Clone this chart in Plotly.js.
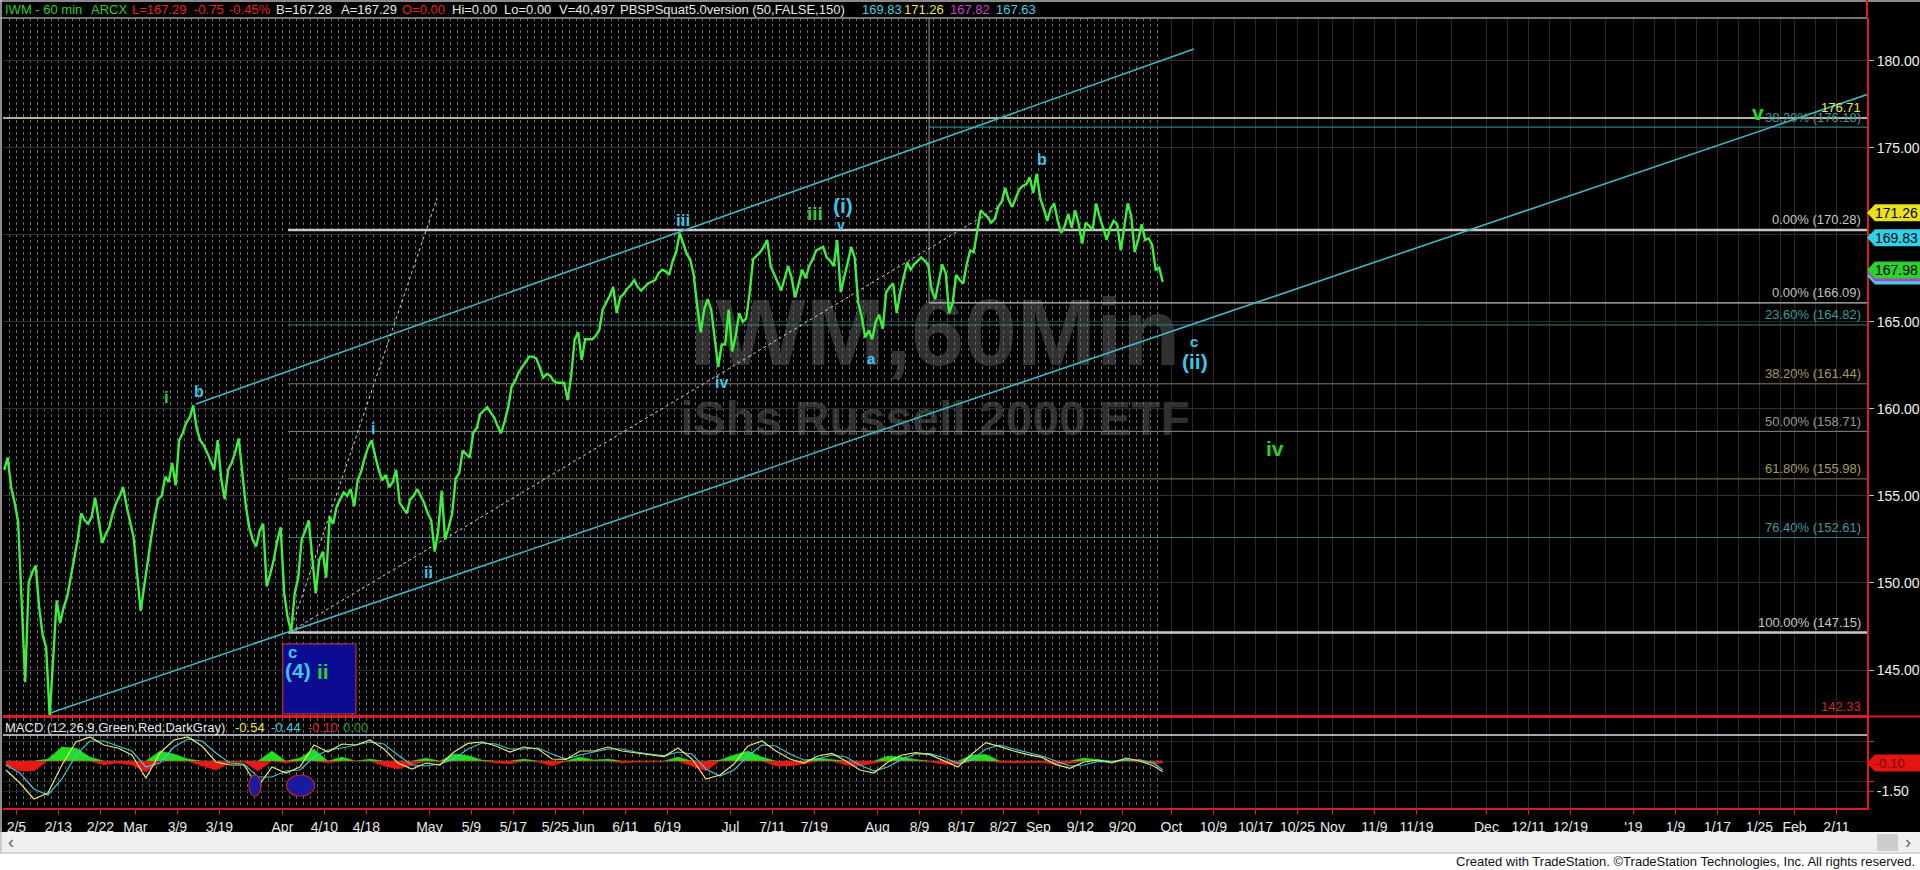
<!DOCTYPE html>
<html>
<head>
<meta charset="utf-8">
<title>IWM - 60 min</title>
<script src="https://cdn.plot.ly/plotly-3.0.1.min.js"></script>
<style>
  html, body { margin:0; padding:0; background:#ffffff; overflow:hidden; }
  #chart { width:1920px; height:870px; }
</style>
</head>
<body>
<div id="chart"></div>
<script>
// ---------- session calendar ----------
const firstSession = '2018-02-01';
const lastSession = '2018-09-27';
const exchangeHolidays = ['2018-02-19', '2018-03-30', '2018-05-28', '2018-07-04', '2018-09-03'];

// ---------- IWM 60-min path: two readings per session (morning, afternoon) ----------
const priceFeb = [
  156.5,157.2, 155.5,154.6, 153.5,148.5, 144.3,150.0, 150.6,151.0, 148.6,147.0, 146.3,142.33,
  146.0,149.0, 147.7,148.6, 149.2,150.3, 151.4,152.5, 154.0,153.6,
  153.4,153.8, 154.9,153.5, 152.3,152.8, 153.2,154.0,
  154.6,155.0, 155.5,154.4, 153.5,152.6
];
const priceMar = [
  150.5,148.4, 149.8,151.3,
  152.6,153.8, 154.8,155.0, 156.1,155.8, 156.9,155.6, 158.2,158.6,
  159.2,159.5, 160.2,158.9, 158.2,157.9, 157.5,157.0, 156.5,158.2,
  156.0,154.8, 156.5,156.9, 157.5,158.3, 156.5,154.5, 153.2,152.5,
  152.1,153.0, 153.4,149.8, 150.5,151.3, 152.4,153.2
];
const priceApr = [
  149.4,148.0, 147.2,149.4, 150.3,152.5, 153.0,153.6, 151.5,149.4,
  151.3,151.8, 150.3,153.8, 153.4,154.4, 154.8,155.2, 155.0,155.4,
  154.4,155.9, 156.4,157.2, 157.8,158.2, 157.3,156.5, 155.9,156.2,
  155.5,155.8, 156.5,154.6, 154.3,154.0, 154.8,155.0, 155.4,155.0,
  154.6,154.0
];
const priceMay = [
  153.6,151.8, 153.0,155.3, 152.5,153.2, 154.0,156.0,
  156.3,157.6, 157.4,157.2, 158.6,158.9, 159.7,159.9, 160.1,159.8,
  159.5,159.0, 158.6,159.3, 160.1,161.3, 161.6,162.1, 162.4,162.7,
  163.0,163.0, 162.9,162.4, 161.8,162.0, 161.9,161.6, 161.5,161.5,
  161.5,160.5, 161.9,164.0, 164.4,162.8
];
const priceJun = [
  164.0,164.0,
  164.0,164.2, 164.5,165.7, 166.1,166.5, 167.0,165.5, 166.4,166.6,
  166.9,167.1, 167.4,167.0, 166.8,167.0, 167.2,167.3, 167.4,167.8,
  168.0,167.9, 167.7,168.5, 169.0,170.1, 169.5,168.9, 168.6,167.7,
  165.9,164.4, 165.7,166.3, 165.7,164.0, 162.4,163.7, 163.7,165.7
];
const priceJul = [
  163.3,164.2, 165.5,165.0, 165.2,166.7, 168.6,168.8,
  169.0,169.3, 169.7,168.2, 167.7,167.2, 166.8,167.5, 168.2,167.5,
  166.4,167.2, 168.0,167.5, 168.2,168.6, 169.1,169.2, 169.3,168.7,
  168.5,168.2, 169.7,166.7, 167.5,168.4, 169.3,168.7, 166.1,165.3,
  164.1,164.5, 164.0,165.0
];
const priceAug = [
  165.4,164.6, 166.7,167.0, 167.2,165.5,
  166.7,167.5, 168.4,168.0, 168.3,168.5, 168.7,168.5, 168.3,166.8,
  166.3,167.3, 168.3,167.8, 165.5,166.1, 167.7,167.4, 167.2,168.3,
  169.1,169.0, 170.2,171.4, 171.2,171.0, 170.7,170.9, 171.6,171.9,
  172.7,172.0, 171.6,172.1, 172.6,172.8, 172.9,173.3, 172.4,173.5
];
const priceSep = [
  172.1,171.5, 170.8,171.5, 171.8,170.8, 170.1,170.5,
  171.2,170.4, 171.4,170.6, 169.5,170.7, 170.5,170.3, 171.8,171.0,
  170.4,169.7, 170.4,170.8, 170.6,169.1, 170.4,171.8, 171.1,169.0,
  169.7,170.6, 169.7,169.8, 169.4,168.0, 168.1,167.29
];

// ---------- MACD (12,26,9), one reading every second session ----------
const macdLine = [
  -0.45,-1.1,-1.9,-1.6,-0.2,0.95,1.2,0.8,0.65,0.3,
  -0.85,0.4,1.05,1.2,0.75,-0.05,-0.2,-0.2,-1.3,-0.3,
  -0.6,-0.3,0.8,0.45,0.85,0.8,1.05,0.6,-0.1,-0.4,
  -0.1,-0.2,0.45,0.88,0.95,0.75,0.45,0.7,0.6,0.1,
  0.08,0.5,0.5,0.7,0.5,0.4,0.3,0.22,0.65,0.1,
  -0.9,-0.7,-0.15,0.75,1.0,0.5,0.1,-0.1,0.25,0.38,
  0.0,-0.45,-0.6,-0.05,0.3,0.42,0.32,0.0,-0.3,0.35,
  0.92,0.72,0.5,0.32,0.18,-0.18,-0.37,-0.05,0.05,-0.1,
  0.15,0.0,-0.25,-0.54
];
const macdSignal = [
  -0.2,-0.6,-1.4,-1.7,-0.9,0.3,1.0,1.0,0.75,0.5,
  -0.3,-0.1,0.7,1.1,1.0,0.4,-0.1,-0.15,-0.8,-0.8,
  -0.5,-0.45,0.2,0.55,0.65,0.8,0.95,0.85,0.3,-0.2,
  -0.25,-0.15,0.1,0.6,0.9,0.85,0.6,0.6,0.65,0.35,
  0.1,0.3,0.45,0.6,0.6,0.45,0.35,0.26,0.45,0.35,
  -0.4,-0.75,-0.45,0.25,0.8,0.75,0.35,0.05,0.1,0.3,
  0.2,-0.2,-0.5,-0.3,0.1,0.35,0.37,0.16,-0.12,0.05,
  0.6,0.8,0.6,0.42,0.25,0.0,-0.25,-0.2,-0.02,-0.03,
  0.05,0.06,-0.12,-0.44
];
const macdHistogram = [
  -0.25,-0.5,-0.5,0.1,0.7,0.65,0.2,-0.2,-0.1,-0.2,
  -0.55,0.5,0.35,0.1,-0.25,-0.45,-0.1,-0.05,-0.5,0.5,
  -0.1,0.15,0.6,-0.1,0.2,0.0,0.1,-0.25,-0.4,-0.2,
  0.15,-0.05,0.35,0.28,0.05,-0.1,-0.15,0.1,-0.05,-0.25,
  -0.02,0.2,0.05,0.1,-0.1,-0.05,-0.05,-0.04,0.2,-0.25,
  -0.5,0.05,0.3,0.5,0.2,-0.25,-0.25,-0.15,0.15,0.08,
  -0.2,-0.25,-0.1,0.25,0.2,0.07,-0.05,-0.16,-0.18,0.3,
  0.32,-0.08,-0.1,-0.1,-0.07,-0.18,-0.12,0.15,0.07,-0.07,
  0.1,-0.06,-0.13,-0.1
];
const macdTitle = 'MACD (12,26,9,Green,Red,DarkGray)';
const macdReadout = ['-0.54', '-0.44', '-0.10', '0.00'];
const macdTagValue = -0.10;
const macdCircleDates = [['2018-03-23 05:00', '2018-03-26 22:00'], ['2018-04-02 14:00', '2018-04-06 14:00']];
const macdCircleValues = [-0.7, -1.75];

// ---------- axis ticks ----------
const tickDates = ['2018-02-05','2018-02-13','2018-02-22','2018-03-01','2018-03-09','2018-03-19','2018-04-02','2018-04-10','2018-04-18',
  '2018-05-01','2018-05-09','2018-05-17','2018-05-25','2018-06-01','2018-06-11','2018-06-19','2018-07-02','2018-07-11','2018-07-19',
  '2018-08-01','2018-08-09','2018-08-17','2018-08-27','2018-09-04','2018-09-12','2018-09-20','2018-10-01','2018-10-09','2018-10-17',
  '2018-10-25','2018-11-01','2018-11-09','2018-11-19','2018-12-03','2018-12-11','2018-12-19','2019-01-01','2019-01-09','2019-01-17',
  '2019-01-25','2019-02-01','2019-02-11'];
const tickText = ['2/5','2/13','2/22','Mar','3/9','3/19','Apr','4/10','4/18',
  'May','5/9','5/17','5/25','Jun','6/11','6/19','Jul','7/11','7/19',
  'Aug','8/9','8/17','8/27','Sep','9/12','9/20','Oct','10/9','10/17',
  '10/25','Nov','11/9','11/19','Dec','12/11','12/19',"'19",'1/9','1/17',
  '1/25','Feb','2/11'];
const futureGridDates = ['2018-10-01','2018-10-04','2018-10-09','2018-10-12','2018-10-17','2018-10-22','2018-10-25','2018-10-30',
  '2018-11-01','2018-11-06','2018-11-09','2018-11-14','2018-11-19','2018-11-26','2018-12-03','2018-12-06','2018-12-11','2018-12-14',
  '2018-12-19','2018-12-26','2019-01-01','2019-01-04','2019-01-09','2019-01-14','2019-01-17','2019-01-22','2019-01-25','2019-01-30',
  '2019-02-01','2019-02-06','2019-02-11'];
const priceTicks = [145, 150, 155, 160, 165, 170, 175, 180];
const xStart = '2018-02-01 02:00';
const xEnd = '2019-02-15 08:40';

// ---------- Fibonacci tools and levels ----------
const fibALevels = [170.28, 164.82, 161.44, 158.71, 155.98, 152.61, 147.15];
const fibALabels = ['0.00% (170.28)','23.60% (164.82)','38.20% (161.44)','50.00% (158.71)','61.80% (155.98)','76.40% (152.61)','100.00% (147.15)'];
const fibAStart = '2018-04-02 19:00';
const fibBLevels = [166.09, 176.18];
const fibBLabels = ['0.00% (166.09)', '38.20% (176.18)'];
const fibBStart = '2018-08-10 09:00';
const targetLevel = 176.71;
const lowLevel = 142.33;

// ---------- trendlines ----------
const upperChannelDates = ['2018-03-13 15:00', '2018-10-04 05:00'];
const upperChannelPrices = [160.28, 180.67];
const lowerChannelDates = ['2018-02-09 15:00', '2019-02-15 08:40'];
const lowerChannelPrices = [142.5, 178.05];
const steepDottedDates = ['2018-04-03 02:00', '2018-05-02 02:00'];
const steepDottedPrices = [147.2, 172.1];
const baseDottedDates = ['2018-04-03 02:00', '2018-08-24 12:00'];
const baseDottedPrices = [147.2, 171.65];
const boxDates = ['2018-04-02 01:00', '2018-04-16 12:00'];
const boxPrices = [142.48, 146.5];

// ---------- wave count ----------
const waveText = ['i','b','i','ii','c','(4)','ii','iii','iii','(i)','v','iv','a','b','c','(ii)','iv','v'];
const waveDates = ['2018-03-07 10:00','2018-03-14 02:00','2018-04-18 22:00','2018-04-30 22:00','2018-04-03 12:00','2018-04-04 05:00',
  '2018-04-09 19:00','2018-06-21 05:00','2018-07-19 02:00','2018-07-25 02:00','2018-07-24 19:00','2018-06-28 19:00',
  '2018-07-31 05:00','2018-09-04 12:00','2018-10-04 05:00','2018-10-04 10:00','2018-10-19 19:00','2019-01-24 19:00'];
const wavePrices = [160.63,160.97,158.9,150.6,146.0,145.0,144.9,170.84,171.24,171.7,170.55,161.5,162.9,174.35,163.85,162.7,157.7,177.05];

// ---------- quote tags and header ----------
const quoteTagValues = [167.63, 167.82, 167.98, 169.83, 171.26];
const quoteTagText = ['', '', '167.98', '169.83', '171.26'];
const headerText = ['IWM - 60 min','ARCX','L=167.29','-0.75','-0.45%','B=167.28','A=167.29','O=0.00','Hi=0.00','Lo=0.00',
  'V=40,497','PBSPSquat5.0version (50,FALSE,150)','169.83','171.26','167.82','167.63'];
const footerText = 'Created with TradeStation. \u00A9TradeStation Technologies, Inc. All rights reserved.';

// ================= drawing =================
function listSessions(start, end, skip) {
  const out = [];
  const d = new Date(start + 'T00:00:00Z');
  const e = new Date(end + 'T00:00:00Z');
  while (d <= e) {
    const wd = d.getUTCDay();
    const s = d.toISOString().slice(0, 10);
    if (wd !== 0 && wd !== 6 && skip.indexOf(s) < 0) out.push(s);
    d.setUTCDate(d.getUTCDate() + 1);
  }
  return out;
}
const sessions = listSessions(firstSession, lastSession, exchangeHolidays);
const priceValues = [].concat(priceFeb, priceMar, priceApr, priceMay, priceJun, priceJul, priceAug, priceSep);
const priceX = [];
sessions.forEach(d => { priceX.push(d + ' 06:00', d + ' 18:00'); });
const macdX = sessions.filter((d, k) => k % 2 === 0).map(d => d + ' 12:00');
macdX.push(sessions[sessions.length - 1] + ' 18:00');

// figure geometry (pixels)
const W = 1920, H = 870, L = 3, R = 1867, T = 18, B = 808, PANE = 718;
const px2paper = p => (p - L) / (R - L);
const py2paper = p => (B - p) / (B - T);

const GREEN = '#3cf03c', CYAN_LABEL = '#3ec6ea', GREEN_LABEL = '#2ecf2e';
const FONT = 'Liberation Sans, Arial, Helvetica, sans-serif';

const traces = [
  { x: upperChannelDates, y: upperChannelPrices, type: 'scatter', mode: 'lines',
    line: { color: '#3fb6c8', width: 1.6 }, hoverinfo: 'skip', xaxis: 'x', yaxis: 'y' },
  { x: lowerChannelDates, y: lowerChannelPrices, type: 'scatter', mode: 'lines',
    line: { color: '#3fb6c8', width: 1.6 }, hoverinfo: 'skip', xaxis: 'x', yaxis: 'y' },
  { x: steepDottedDates, y: steepDottedPrices, type: 'scatter', mode: 'lines',
    line: { color: '#d8d8d8', width: 1, dash: 'dot' }, hoverinfo: 'skip', xaxis: 'x', yaxis: 'y' },
  { x: baseDottedDates, y: baseDottedPrices, type: 'scatter', mode: 'lines',
    line: { color: '#d8d8d8', width: 1, dash: 'dot' }, hoverinfo: 'skip', xaxis: 'x', yaxis: 'y' },
  { x: priceX, y: priceValues, type: 'scatter', mode: 'lines',
    line: { color: GREEN, width: 2.4 }, hoverinfo: 'skip', xaxis: 'x', yaxis: 'y' },
  { x: macdX, y: macdHistogram.map(v => v > 0 ? v : 0), type: 'scatter', mode: 'lines', fill: 'tozeroy',
    fillcolor: '#22dd22', line: { color: '#22dd22', width: 0.5 }, hoverinfo: 'skip', xaxis: 'x', yaxis: 'y2' },
  { x: macdX, y: macdHistogram.map(v => v < 0 ? v : 0), type: 'scatter', mode: 'lines', fill: 'tozeroy',
    fillcolor: '#e81818', line: { color: '#e81818', width: 0.5 }, hoverinfo: 'skip', xaxis: 'x', yaxis: 'y2' },
  { x: macdX, y: macdSignal, type: 'scatter', mode: 'lines',
    line: { color: '#3cc8d8', width: 1.2 }, hoverinfo: 'skip', xaxis: 'x', yaxis: 'y2' },
  { x: macdX, y: macdLine, type: 'scatter', mode: 'lines',
    line: { color: '#e8e870', width: 1.2 }, hoverinfo: 'skip', xaxis: 'x', yaxis: 'y2' }
];

const shapes = [];
// solid grid in the projected (future) area
futureGridDates.forEach(d => shapes.push({ type: 'line', xref: 'x', yref: 'paper', x0: d, x1: d, y0: 0, y1: 1,
  line: { color: '#2c2c2c', width: 1 }, layer: 'below' }));
// watermark
shapes.push({ type: 'rect', xref: 'x domain', yref: 'y domain', x0: 0.3, x1: 0.7, y0: 0.514, y1: 0.614,
  line: { width: 0 }, fillcolor: 'rgba(0,0,0,0)', layer: 'below',
  label: { text: '<b>IWM,60Min</b>', textposition: 'middle center',
    font: { family: FONT, size: 95, color: '#313131' } } });
shapes.push({ type: 'rect', xref: 'x domain', yref: 'y domain', x0: 0.3, x1: 0.7, y0: 0.40, y1: 0.47,
  line: { width: 0 }, fillcolor: 'rgba(0,0,0,0)', layer: 'below',
  label: { text: '<b>iShs Russell 2000 ETF</b>', textposition: 'middle center',
    font: { family: FONT, size: 48, color: '#313131' } } });

const fibALineColors = ['#c8c8c8', '#2e8081', '#8a7a58', '#8c8c8c', '#8a7a58', '#2e8081', '#c8c8c8'];
const fibALineWidths = [2.5, 1, 1, 1, 1, 1, 2.5];
const fibATextColors = ['#c8c8c8', '#3f9a9c', '#a29c62', '#9a9a9a', '#a29c62', '#3f9a9c', '#c8c8c8'];
fibALevels.forEach((v, i) => shapes.push({ type: 'line', xref: 'x', yref: 'y', x0: fibAStart, x1: xEnd, y0: v, y1: v,
  line: { color: fibALineColors[i], width: fibALineWidths[i] }, layer: 'between' }));
const fibBLineColors = ['#c0c0c0', '#2e8081'];
const fibBTextColors = ['#c0c0c0', '#3f9a9c'];
fibBLevels.forEach((v, i) => shapes.push({ type: 'line', xref: 'x', yref: 'y', x0: fibBStart, x1: xEnd, y0: v, y1: v,
  line: { color: fibBLineColors[i], width: 1.2 }, layer: 'between' }));
shapes.push({ type: 'line', xref: 'x', yref: 'y', x0: fibBStart, x1: fibBStart, y0: fibBLevels[0], y1: 182.45,
  line: { color: '#9a9a9a', width: 1 }, layer: 'between' });
shapes.push({ type: 'line', xref: 'x', yref: 'y', x0: xStart, x1: xEnd, y0: targetLevel, y1: targetLevel,
  line: { color: '#eeeec8', width: 1.5 }, layer: 'between' });
shapes.push({ type: 'line', xref: 'x', yref: 'y', x0: xStart, x1: xEnd, y0: lowLevel, y1: lowLevel,
  line: { color: '#d81e1e', width: 3 }, layer: 'above' });
shapes.push({ type: 'rect', xref: 'x', yref: 'y', x0: boxDates[0], x1: boxDates[1], y0: boxPrices[0], y1: boxPrices[1],
  fillcolor: '#0c0c92', line: { color: '#b03040', width: 1.2 }, layer: 'above' });
// MACD pane top rule
shapes.push({ type: 'line', xref: 'paper', yref: 'y2', x0: 0, x1: 1, y0: 1.3, y1: 1.3,
  line: { color: '#d4e2ee', width: 1.5 }, layer: 'above' });
macdCircleDates.forEach(pair => shapes.push({ type: 'circle', xref: 'x', yref: 'y2', x0: pair[0], x1: pair[1],
  y0: macdCircleValues[0], y1: macdCircleValues[1], fillcolor: '#1a1aa0', line: { color: '#c02030', width: 1.2 }, layer: 'above' }));

// quote tags on the price scale
const quoteTagColors = ['#46c8e6', '#b044c8', '#2ad22a', '#2ed2ea', '#e8e020'];
const tagPath = 'M0,0 L8,-8.5 L53,-8.5 L53,8.5 L8,8.5 Z';
quoteTagValues.forEach((v, i) => shapes.push({ type: 'path', xref: 'paper', yref: 'y', xsizemode: 'pixel', ysizemode: 'pixel',
  xanchor: 1, yanchor: v, path: tagPath, fillcolor: quoteTagColors[i], line: { width: 0 }, layer: 'above' }));
shapes.push({ type: 'path', xref: 'paper', yref: 'y2', xsizemode: 'pixel', ysizemode: 'pixel',
  xanchor: 1, yanchor: macdTagValue, path: tagPath, fillcolor: '#e41414', line: { width: 0 }, layer: 'above' });

// frame: header rules, right border, pane separator
shapes.push({ type: 'line', xref: 'paper', yref: 'paper', x0: px2paper(0), x1: 1, y0: 1, y1: 1,
  line: { color: '#9a9a9a', width: 1.5 }, layer: 'above' });
shapes.push({ type: 'line', xref: 'paper', yref: 'paper', x0: px2paper(0), x1: px2paper(W), y0: py2paper(1), y1: py2paper(1),
  line: { color: '#8a8a8a', width: 2 }, layer: 'above' });
shapes.push({ type: 'line', xref: 'paper', yref: 'paper', x0: 1, x1: 1, y0: 1, y1: py2paper(0),
  line: { color: '#d81e1e', width: 2 }, layer: 'above' });
shapes.push({ type: 'line', xref: 'paper', yref: 'paper', x0: 1, x1: px2paper(W), y0: py2paper(716.5), y1: py2paper(716.5),
  line: { color: '#d81e1e', width: 2 }, layer: 'above' });
shapes.push({ type: 'line', xref: 'paper', yref: 'paper', x0: px2paper(1), x1: px2paper(1), y0: py2paper(0), y1: py2paper(853),
  line: { color: '#bdbdbd', width: 1.5 }, layer: 'above' });
// footer and scroll bar
shapes.push({ type: 'rect', xref: 'paper', yref: 'paper', x0: px2paper(-5), x1: px2paper(W + 5), y0: py2paper(832), y1: py2paper(H + 5),
  fillcolor: '#ffffff', line: { width: 0 }, layer: 'above' });
shapes.push({ type: 'rect', xref: 'paper', yref: 'paper', x0: px2paper(2), x1: px2paper(W + 5), y0: py2paper(832), y1: py2paper(852),
  fillcolor: '#f0f0f0', line: { width: 0 }, layer: 'above' });
shapes.push({ type: 'line', xref: 'paper', yref: 'paper', x0: px2paper(0), x1: px2paper(W), y0: py2paper(853), y1: py2paper(853),
  line: { color: '#c8c8c8', width: 1.5 }, layer: 'above' });
shapes.push({ type: 'rect', xref: 'paper', yref: 'paper', x0: px2paper(1877), x1: px2paper(1898), y0: py2paper(834), y1: py2paper(851),
  fillcolor: '#cdcdcd', line: { width: 0 }, layer: 'above' });
shapes.push({ type: 'line', xref: 'paper', yref: 'paper', x0: px2paper(1), x1: px2paper(1), y0: py2paper(832), y1: py2paper(853),
  line: { color: '#bdbdbd', width: 1.5 }, layer: 'above' });

const annotations = [];
const fibLabelX = px2paper(1863);
fibALevels.forEach((v, i) => annotations.push({ xref: 'paper', yref: 'y', x: fibLabelX, y: v, xanchor: 'right', yanchor: 'middle',
  yshift: 10, text: fibALabels[i], showarrow: false, font: { family: FONT, size: 13, color: fibATextColors[i] } }));
fibBLevels.forEach((v, i) => annotations.push({ xref: 'paper', yref: 'y', x: fibLabelX, y: v, xanchor: 'right', yanchor: 'middle',
  yshift: 10, text: fibBLabels[i], showarrow: false, font: { family: FONT, size: 13, color: fibBTextColors[i] } }));
annotations.push({ xref: 'paper', yref: 'y', x: fibLabelX, y: targetLevel, xanchor: 'right', yanchor: 'middle', yshift: 10,
  text: targetLevel.toFixed(2), showarrow: false, font: { family: FONT, size: 13, color: '#ecec50' } });
annotations.push({ xref: 'paper', yref: 'y', x: fibLabelX, y: lowLevel, xanchor: 'right', yanchor: 'middle', yshift: 10,
  text: lowLevel.toFixed(2), showarrow: false, font: { family: FONT, size: 13, color: '#d02828' } });

// wave count labels
const waveColors = ['g','c','c','c','c','c','g','c','g','c','c','c','c','c','c','c','g','g'];
const waveSizes = [17,16,16,16,17,21,21,17,19,21,14,16,15,16,15,21,21,21];
waveText.forEach((t, i) => annotations.push({ xref: 'x', yref: 'y', x: waveDates[i], y: wavePrices[i], xanchor: 'center', yanchor: 'middle',
  text: '<b>' + t + '</b>', showarrow: false,
  font: { family: FONT, size: waveSizes[i], color: waveColors[i] === 'g' ? (i === 17 ? '#22dd22' : GREEN_LABEL) : CYAN_LABEL } }));

// quote tag texts
quoteTagValues.forEach((v, i) => { if (quoteTagText[i]) annotations.push({ xref: 'paper', yref: 'y', x: 1, y: v, xanchor: 'left',
  yanchor: 'middle', xshift: 6, text: quoteTagText[i], showarrow: false, font: { family: FONT, size: 14, color: '#000000' } }); });
annotations.push({ xref: 'paper', yref: 'y2', x: 1, y: macdTagValue, xanchor: 'left', yanchor: 'middle', xshift: 6,
  text: macdTagValue.toFixed(2), showarrow: false, font: { family: FONT, size: 13, color: '#7a0000' } });

// header strip
const headerX = [3, 89, 130, 192, 227, 274, 339, 400, 450, 502, 557, 618, 860, 902, 948, 994];
const headerColors = ['#2cd02c','#2cd02c','#e82424','#e82424','#e82424','#e8e8e8','#e8e8e8','#e82424','#e8e8e8','#e8e8e8',
  '#e8e8e8','#e8e8e8','#44d2e4','#e8e84a','#d040d0','#44d2e4'];
headerText.forEach((t, i) => annotations.push({ xref: 'paper', yref: 'paper', x: px2paper(headerX[i]), y: py2paper(10),
  xanchor: 'left', yanchor: 'middle', text: t, showarrow: false, font: { family: FONT, size: 13, color: headerColors[i] } }));

// MACD caption
annotations.push({ xref: 'paper', yref: 'paper', x: px2paper(3), y: py2paper(727), xanchor: 'left', yanchor: 'middle',
  text: macdTitle, showarrow: false, font: { family: FONT, size: 13, color: '#e8e8e8' } });
const macdReadoutX = [233, 269, 306, 341];
const macdReadoutColors = ['#e8e84a', '#44c8dc', '#e02424', '#2a9a2a'];
macdReadout.forEach((t, i) => annotations.push({ xref: 'paper', yref: 'paper', x: px2paper(macdReadoutX[i]), y: py2paper(727),
  xanchor: 'left', yanchor: 'middle', text: t, showarrow: false, font: { family: FONT, size: 13, color: macdReadoutColors[i] } }));

// footer
annotations.push({ xref: 'paper', yref: 'paper', x: px2paper(1917), y: py2paper(862), xanchor: 'right', yanchor: 'middle',
  text: footerText, showarrow: false, font: { family: FONT, size: 13, color: '#111111' } });
annotations.push({ xref: 'paper', yref: 'paper', x: px2paper(11), y: py2paper(842), xanchor: 'center', yanchor: 'middle',
  text: '\u2039', showarrow: false, font: { family: FONT, size: 18, color: '#666666' } });
annotations.push({ xref: 'paper', yref: 'paper', x: px2paper(1908), y: py2paper(842), xanchor: 'center', yanchor: 'middle',
  text: '\u203A', showarrow: false, font: { family: FONT, size: 18, color: '#666666' } });

const layout = {
  width: W, height: H,
  margin: { l: L, r: W - R, t: T, b: H - B, pad: 0 },
  paper_bgcolor: '#000000',
  plot_bgcolor: 'rgba(0,0,0,0)',
  showlegend: false,
  hovermode: false,
  font: { family: FONT, color: '#e8e8e8', size: 13 },
  xaxis: {
    type: 'date', range: [xStart, xEnd], anchor: 'y2', fixedrange: true,
    rangebreaks: [{ bounds: ['sat', 'mon'] }, { values: exchangeHolidays }],
    tickmode: 'array', tickvals: tickDates, ticktext: tickText, tickangle: 0,
    ticks: 'outside', ticklen: 5, tickcolor: '#d81e1e', tickwidth: 1,
    tickfont: { family: FONT, size: 14, color: '#e8e8e8' },
    showline: true, linecolor: '#d81e1e', linewidth: 2,
    showgrid: false, zeroline: false,
    minor: { tickmode: 'array', tickvals: sessions, ticks: '', showgrid: true,
      gridcolor: '#6a6a6a', gridwidth: 1, griddash: 'dot' }
  },
  yaxis: {
    domain: [py2paper(PANE), 1], range: [142.245, 182.45], side: 'right', anchor: 'x', fixedrange: true,
    tickmode: 'array', tickvals: priceTicks, ticktext: priceTicks.map(v => v.toFixed(2)),
    ticks: 'outside', ticklen: 5, tickcolor: '#bbbbbb',
    tickfont: { family: FONT, size: 14, color: '#f0f0f0' },
    showline: true, linecolor: '#d81e1e', linewidth: 2,
    showgrid: true, gridcolor: '#2e2e2e', gridwidth: 1, zeroline: false
  },
  yaxis2: {
    domain: [0, py2paper(PANE)], range: [-2.35, 2.15], side: 'right', anchor: 'x', fixedrange: true,
    tickmode: 'array', tickvals: [1, 0, -1, -1.5], ticktext: ['', '', '', '-1.50'],
    ticks: 'outside', ticklen: 5, tickcolor: '#d81e1e',
    tickfont: { family: FONT, size: 14, color: '#f0f0f0' },
    showline: true, linecolor: '#d81e1e', linewidth: 2,
    showgrid: true, gridcolor: '#262626', gridwidth: 1, zeroline: false
  },
  shapes: shapes,
  annotations: annotations
};

Plotly.newPlot('chart', traces, layout, { displayModeBar: false, staticPlot: true });
</script>
</body>
</html>
